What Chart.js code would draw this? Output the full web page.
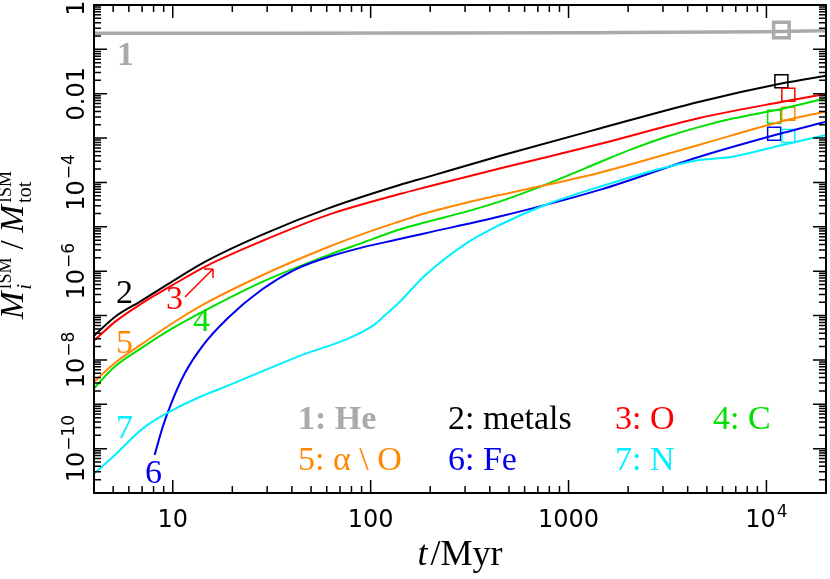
<!DOCTYPE html>
<html>
<head>
<meta charset="utf-8">
<script src="https://cdn.jsdelivr.net/npm/chart.js@4.4.1/dist/chart.umd.min.js"></script>
<style>
  html, body { margin: 0; padding: 0; background: #fff; }
  #wrap { width: 830px; height: 579px; }
</style>
</head>
<body>
<div id="wrap"><canvas id="c" width="830" height="579"></canvas></div>
<script>
// time in Myr, mass fractions
const tHe = [4, 1400, 10000, 20000];
const yHe = [0.23, 0.238, 0.25, 0.264];

const tMetals = [4, 5.1, 7, 10, 15, 28, 61, 140, 187, 448, 1435, 4590, 12050, 20000];
const yMetals = [3.5e-8, 9.3e-8, 2.2e-7, 6.0e-7, 1.75e-6, 6.5e-6, 2.6e-5, 8.75e-5, 1.27e-4, 3.94e-4, 1.64e-3, 6.6e-3, 1.72e-2, 2.55e-2];

const tO = [4, 5.1, 7, 10, 15, 28, 61, 140, 187, 448, 1435, 4590, 12050, 20000];
const yO = [2.7e-8, 7.2e-8, 1.9e-7, 4.9e-7, 1.35e-6, 4.7e-6, 1.86e-5, 5.48e-5, 7.69e-5, 2.06e-4, 7.35e-4, 2.84e-3, 6.6e-3, 9.9e-3];

const tC = [4, 5.1, 7, 10, 15, 28, 61, 90, 140, 187, 304, 448, 658, 977, 1435, 2104, 3126, 4590, 6730, 12050, 20000];
const yC = [2.3e-9, 7.1e-9, 1.9e-8, 5.2e-8, 1.4e-7, 5.6e-7, 2.3e-6, 4.3e-6, 8.7e-6, 1.25e-5, 2.2e-5, 3.7e-5, 6.9e-5, 1.39e-4, 2.85e-4, 5.7e-4, 1.07e-3, 1.79e-3, 2.75e-3, 4.6e-3, 7.9e-3];

const tAlpha = [4, 5.1, 7, 10, 15, 28, 61, 100, 140, 187, 304, 448, 1435, 4590, 12050, 20000];
const yAlpha = [3.2e-9, 8.5e-9, 2.3e-8, 6.8e-8, 2.0e-7, 7.9e-7, 3.5e-6, 8.0e-6, 1.32e-5, 2.0e-5, 3.5e-5, 5.2e-5, 1.66e-4, 7.1e-4, 2.4e-3, 4.0e-3];

const tFe = [8.1, 8.9, 9.85, 11.5, 14, 19, 28, 41, 61, 90, 140, 187, 448, 1435, 4590, 12050, 20000];
const yFe = [7.2e-11, 3.1e-10, 1.08e-9, 5.0e-9, 1.95e-8, 8.8e-8, 3.76e-7, 1.06e-6, 2.08e-6, 3.4e-6, 5.3e-6, 7.1e-6, 1.7e-5, 6.8e-5, 3.8e-4, 1.3e-3, 2.34e-3];

const tN = [4, 5.1, 7.1, 10, 13.7, 19, 41, 101, 120, 140, 187, 304, 448, 802, 1435, 2565, 4590, 6730, 12050, 20000];
const yN = [2.7e-11, 7.2e-11, 2.9e-10, 7.4e-10, 1.46e-9, 2.64e-9, 1.1e-8, 5.6e-8, 1.08e-7, 2.02e-7, 7.8e-7, 4.25e-6, 1.1e-5, 3.4e-5, 8.0e-5, 1.75e-4, 3.2e-4, 3.8e-4, 7.0e-4, 1.17e-3];

// solar reference squares
const tSunHe = [11900];
const ySunHe = [0.273];
const tSun = [11900, 12900, 10940, 12900, 10940, 12900];
const ySun = [0.0191, 0.0095, 0.00303, 0.00355, 0.00126, 0.00111];

const colHe = '#aaaaaa', colMetals = '#000000', colO = '#ff0000', colC = '#00e000',
      colAlpha = '#ff8800', colFe = '#0000ee', colN = '#00f0ff';

const pts = (t, y) => t.map((v, i) => ({ x: v, y: y[i] }));

function curve(t, y, color, width) {
  return {
    data: pts(t, y), borderColor: color, borderWidth: width || 2,
    pointRadius: 0, fill: false, cubicInterpolationMode: 'monotone'
  };
}

const SERIF = '"Liberation Serif", "Times New Roman", serif';
const SANS = '"DejaVu Sans", sans-serif';

function drawPow(ctx, base, exp, x, y) {
  // centred label "base^exp" with baseline at y
  ctx.font = '24px ' + SANS;
  const w1 = ctx.measureText(base).width;
  ctx.font = '17px ' + SANS;
  const w2 = exp ? ctx.measureText(exp).width + 1 : 0;
  const x0 = x - (w1 + w2) / 2;
  ctx.textAlign = 'left';
  ctx.font = '24px ' + SANS;
  ctx.fillText(base, x0, y);
  if (exp) {
    ctx.font = '17px ' + SANS;
    ctx.fillText(exp, x0 + w1 + 1, y - 10);
  }
}

const frame = {
  id: 'frame',
  afterDatasetsDraw(chart) {
    const ctx = chart.ctx;
    const xs = chart.scales.x, ys = chart.scales.y;
    const { left, right, top, bottom } = chart.chartArea;
    ctx.save();
    ctx.strokeStyle = '#000';
    ctx.fillStyle = '#000';
    ctx.lineWidth = 1.5;
    ctx.beginPath();
    for (let d = 0; d <= 4; d++) {
      for (let m = 1; m <= 9; m++) {
        const v = m * Math.pow(10, d);
        if (v < 4 || v > 20000) continue;
        const px = xs.getPixelForValue(v);
        const len = m === 1 ? 13 : 7;
        ctx.moveTo(px, bottom); ctx.lineTo(px, bottom - len);
        ctx.moveTo(px, top); ctx.lineTo(px, top + len);
      }
    }
    for (let d = -11; d <= 0; d++) {
      for (let m = 1; m <= 9; m++) {
        const v = m * Math.pow(10, d);
        if (v < 1e-11 || v > 1) continue;
        const py = ys.getPixelForValue(v);
        const len = m === 1 ? 13 : 7;
        ctx.moveTo(left, py); ctx.lineTo(left + len, py);
        ctx.moveTo(right, py); ctx.lineTo(right - len, py);
      }
    }
    ctx.stroke();
    ctx.lineWidth = 2;
    ctx.strokeRect(left, top, right - left, bottom - top);

    // x tick labels
    ctx.textBaseline = 'alphabetic';
    drawPow(ctx, '10', '', xs.getPixelForValue(10), 527);
    drawPow(ctx, '100', '', xs.getPixelForValue(100), 527);
    drawPow(ctx, '1000', '', xs.getPixelForValue(1000), 527);
    drawPow(ctx, '10', '4', xs.getPixelForValue(10000), 527);

    // y tick labels (rotated)
    for (let e = 0; e >= -10; e -= 2) {
      let py = ys.getPixelForValue(Math.pow(10, e));
      ctx.save();
      if (e === 0) py = Math.max(py, 8);
      ctx.translate(84, py);
      ctx.rotate(-Math.PI / 2);
      if (e === 0) drawPow(ctx, '1', '', 0, 0);
      else if (e === -2) drawPow(ctx, '0.01', '', 0, 0);
      else drawPow(ctx, '10', '\u2212' + (-e), 0, 0);
      ctx.restore();
    }

    // y axis title
    ctx.save();
    ctx.translate(23, 245);
    ctx.rotate(-Math.PI / 2);
    const fM = 'italic 33px ' + SERIF, fSubI = 'italic 20px ' + SERIF, fSup = '18px ' + SERIF, fR = '33px ' + SERIF;
    ctx.font = fM; const wM = ctx.measureText('M').width;
    ctx.font = fSup; const wISM = ctx.measureText('ISM').width;
    ctx.font = fR; const wSl = ctx.measureText('/').width;
    const gap = 8;
    const total = wM + wISM + 2 + gap + wSl + gap + wM + wISM + 2;
    let x = -total / 2;
    ctx.textAlign = 'left';
    ctx.font = fM; ctx.fillText('M', x, 0); x += wM + 2;
    ctx.font = fSup; ctx.fillText('ISM', x, -12);
    ctx.font = fSubI; ctx.fillText('i', x, 8); x += wISM + gap;
    ctx.font = fR; ctx.fillText('/', x, 0); x += wSl + gap;
    ctx.font = fM; ctx.fillText('M', x, 0); x += wM + 2;
    ctx.font = fSup; ctx.fillText('ISM', x, -12);
    ctx.font = '20px ' + SERIF; ctx.fillText('tot', x, 8);
    ctx.restore();

    // x axis title
    ctx.font = 'italic 36px ' + SERIF;
    const wt = ctx.measureText('t').width;
    ctx.font = '36px ' + SERIF;
    const wr = ctx.measureText('/Myr').width;
    let xt = 460 - (wt + 3 + wr) / 2;
    ctx.textAlign = 'left';
    ctx.font = 'italic 36px ' + SERIF; ctx.fillText('t', xt, 565);
    ctx.font = '36px ' + SERIF; ctx.fillText('/Myr', xt + wt + 3, 565);

    // curve labels
    const tag = (s, c, x, y, bold) => {
      ctx.font = (bold ? 'bold ' : '') + '34px ' + SERIF;
      ctx.fillStyle = c; ctx.fillText(s, x, y);
    };
    tag('1', colHe, 117, 65, true);
    tag('2', colMetals, 116, 303);
    tag('3', colO, 166, 309);
    tag('4', colC, 193, 331);
    tag('5', colAlpha, 116, 353);
    tag('6', colFe, 145, 483);
    tag('7', colN, 116, 438);

    // arrow from label 3
    ctx.strokeStyle = colO; ctx.lineWidth = 1.5;
    ctx.beginPath();
    ctx.moveTo(185, 297); ctx.lineTo(213, 269);
    ctx.moveTo(213, 269); ctx.lineTo(204, 269);
    ctx.moveTo(213, 269); ctx.lineTo(213, 278);
    ctx.stroke();

    // legend
    tag('1: He', colHe, 298, 429, true);
    tag('2: metals', colMetals, 448, 429);
    tag('3: O', colO, 615, 429);
    tag('4: C', colC, 713, 429);
    tag('5: \u03b1 \\ O', colAlpha, 298, 470);
    tag('6: Fe', colFe, 448, 470);
    tag('7: N', colN, 615, 470);
    ctx.restore();
  }
};

new Chart(document.getElementById('c'), {
  type: 'line',
  data: {
    datasets: [
      curve(tHe, yHe, colHe, 3.5),
      curve(tN, yN, colN),
      curve(tFe, yFe, colFe),
      curve(tAlpha, yAlpha, colAlpha),
      curve(tC, yC, colC),
      curve(tO, yO, colO),
      curve(tMetals, yMetals, colMetals),
      {
        type: 'scatter', data: pts(tSunHe, ySunHe), showLine: false,
        pointStyle: 'rect', pointRadius: 11, pointBorderWidth: 3.5,
        pointBackgroundColor: 'rgba(0,0,0,0)', pointBorderColor: colHe
      },
      {
        type: 'scatter', data: pts(tSun, ySun), showLine: false,
        pointStyle: 'rect', pointRadius: 9.2, pointBorderWidth: 1.5,
        pointBackgroundColor: 'rgba(0,0,0,0)',
        pointBorderColor: [colMetals, colO, colC, colAlpha, colFe, colN]
      }
    ]
  },
  options: {
    responsive: false,
    devicePixelRatio: 1,
    animation: false,
    layout: { autoPadding: false, padding: { left: 94, right: 4, top: 5, bottom: 86 } },
    plugins: { legend: { display: false }, tooltip: { enabled: false } },
    scales: {
      x: { type: 'logarithmic', min: 4, max: 20000, display: false },
      y: { type: 'logarithmic', min: 1e-11, max: 1, display: false }
    }
  },
  plugins: [frame]
});
</script>
</body>
</html>
